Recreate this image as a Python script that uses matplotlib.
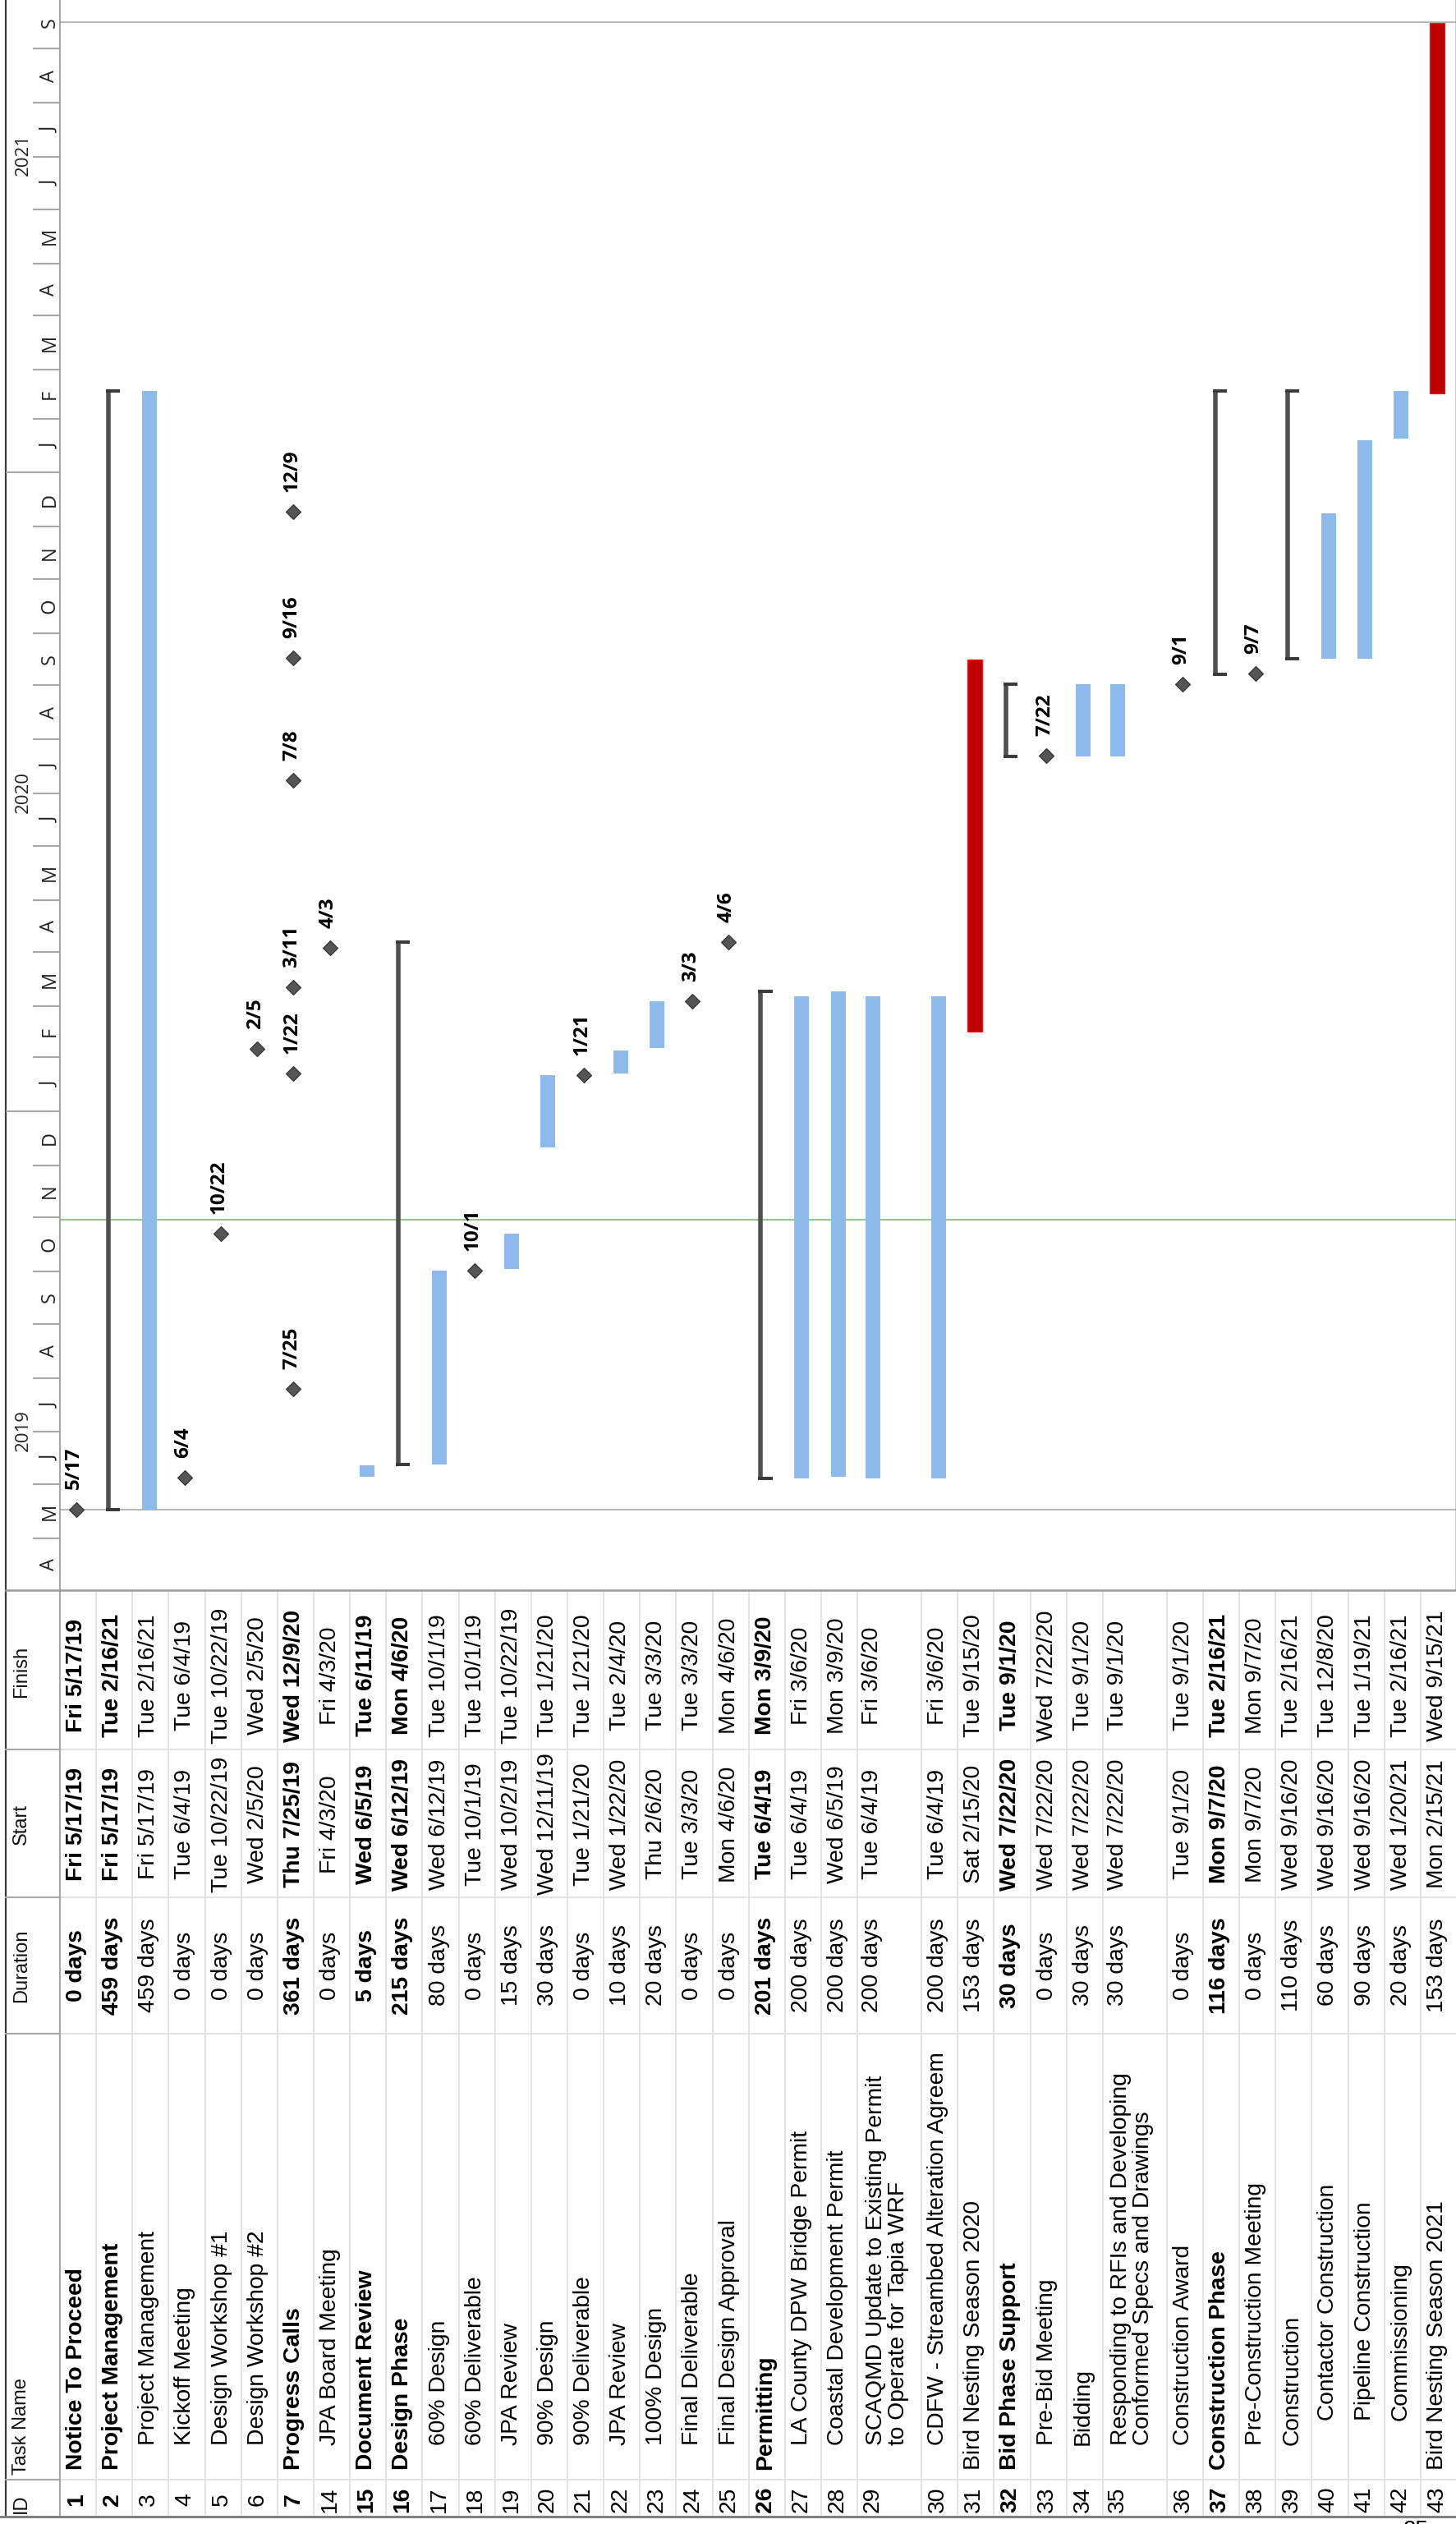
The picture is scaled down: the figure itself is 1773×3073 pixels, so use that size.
import matplotlib
matplotlib.use('Agg')
import matplotlib.pyplot as plt
import matplotlib.dates as mdates
from datetime import datetime

# ---------------- data ----------------
ids = [1, 2, 3, 4, 5, 6, 7, 14, 15, 16, 17, 18, 19, 20, 21, 22, 23, 24, 25,
       26, 27, 28, 29, 30, 31, 32, 33, 34, 35, 36, 37, 38, 39, 40, 41, 42, 43]
task_names = [
    "Notice To Proceed", "Project Management", "Project Management", "Kickoff Meeting",
    "Design Workshop #1", "Design Workshop #2", "Progress Calls", "JPA Board Meeting",
    "Document Review", "Design Phase", "60% Design", "60% Deliverable", "JPA Review",
    "90% Design", "90% Deliverable", "JPA Review", "100% Design", "Final Deliverable",
    "Final Design Approval", "Permitting", "LA County DPW Bridge Permit",
    "Coastal Development Permit",
    "SCAQMD Update to Existing Permit\nto Operate for Tapia WRF",
    "CDFW - Streambed Alteration Agreem", "Bird Nesting Season 2020",
    "Bid Phase Support", "Pre-Bid Meeting", "Bidding",
    "Responding to RFIs and Developing\nConformed Specs and Drawings",
    "Construction Award", "Construction Phase", "Pre-Construction Meeting",
    "Construction", "Contactor Construction", "Pipeline Construction",
    "Commissioning", "Bird Nesting Season 2021"]
durations = ["0 days", "459 days", "459 days", "0 days", "0 days", "0 days", "361 days",
             "0 days", "5 days", "215 days", "80 days", "0 days", "15 days", "30 days",
             "0 days", "10 days", "20 days", "0 days", "0 days", "201 days", "200 days",
             "200 days", "200 days", "200 days", "153 days", "30 days", "0 days",
             "30 days", "30 days", "0 days", "116 days", "0 days", "110 days", "60 days",
             "90 days", "20 days", "153 days"]
starts = ["Fri 5/17/19", "Fri 5/17/19", "Fri 5/17/19", "Tue 6/4/19", "Tue 10/22/19",
          "Wed 2/5/20", "Thu 7/25/19", "Fri 4/3/20", "Wed 6/5/19", "Wed 6/12/19",
          "Wed 6/12/19", "Tue 10/1/19", "Wed 10/2/19", "Wed 12/11/19", "Tue 1/21/20",
          "Wed 1/22/20", "Thu 2/6/20", "Tue 3/3/20", "Mon 4/6/20", "Tue 6/4/19",
          "Tue 6/4/19", "Wed 6/5/19", "Tue 6/4/19", "Tue 6/4/19", "Sat 2/15/20",
          "Wed 7/22/20", "Wed 7/22/20", "Wed 7/22/20", "Wed 7/22/20", "Tue 9/1/20",
          "Mon 9/7/20", "Mon 9/7/20", "Wed 9/16/20", "Wed 9/16/20", "Wed 9/16/20",
          "Wed 1/20/21", "Mon 2/15/21"]
finishes = ["Fri 5/17/19", "Tue 2/16/21", "Tue 2/16/21", "Tue 6/4/19", "Tue 10/22/19",
            "Wed 2/5/20", "Wed 12/9/20", "Fri 4/3/20", "Tue 6/11/19", "Mon 4/6/20",
            "Tue 10/1/19", "Tue 10/1/19", "Tue 10/22/19", "Tue 1/21/20", "Tue 1/21/20",
            "Tue 2/4/20", "Tue 3/3/20", "Tue 3/3/20", "Mon 4/6/20", "Mon 3/9/20",
            "Fri 3/6/20", "Mon 3/9/20", "Fri 3/6/20", "Fri 3/6/20", "Tue 9/15/20",
            "Tue 9/1/20", "Wed 7/22/20", "Tue 9/1/20", "Tue 9/1/20", "Tue 9/1/20",
            "Tue 2/16/21", "Mon 9/7/20", "Tue 2/16/21", "Tue 12/8/20", "Tue 1/19/21",
            "Tue 2/16/21", "Wed 9/15/21"]
# m = milestone, s = summary bracket, b = task bar, r = highlighted (red) bar, p = rolled-up milestones
bar_kinds = ['m', 's', 'b', 'm', 'm', 'm', 'p', 'm', 'b', 's', 'b', 'm', 'b', 'b', 'm', 'b',
             'b', 'm', 'm', 's', 'b', 'b', 'b', 'b', 'r', 's', 'm', 'b', 'b', 'm', 's', 'm',
             's', 'b', 'b', 'b', 'r']
outline_levels = [0, 0, 1, 1, 1, 1, 0, 1, 0, 0, 1, 1, 1, 1, 1, 1, 1, 1, 1, 0, 1, 1, 1, 1,
                  0, 0, 1, 1, 1, 1, 0, 1, 1, 2, 2, 2, 0]
bold_rows = [1, 2, 7, 15, 16, 26, 32, 37]
progress_call_dates = ["2019-07-25", "2020-01-22", "2020-03-11", "2020-07-08",
                       "2020-09-16", "2020-12-09"]
status_date = "2019-10-30"
column_headers = ["ID", "Task Name", "Duration", "Start", "Finish"]
month_letters = list("JFMAMJJASOND")
years = [2019, 2020, 2021]
timescale_start = (2019, 4)
timescale_end = (2021, 10)

# ---------------- layout ----------------
W, H = 1774, 3073
HDR_L, HDR_R = 7, 73
G_BOT = 1936
T_BOT = 3064
COL_LINES = [2130, 2310, 2476, 3019]
FIN_C, START_C, DUR_C, ID_C = 2040, 2221, 2393, 3043
NAME_START = [3007, 2977, 2947]
TABLE_FONT = ['Liberation Sans', 'DejaVu Sans']
SCALE_FONT = ['Open Sans', 'DejaVu Sans']
BLUE = '#8CBBEB'
RED = '#C00000'
DARK = '#505050'

fig = plt.figure(figsize=(W / 100, H / 100), dpi=100)
fig.patch.set_facecolor('white')

ax_all = fig.add_axes([0, 0, 1, 1])
ax_all.set_xlim(0, W)
ax_all.set_ylim(H, 0)
ax_all.axis('off')

ax_g = fig.add_axes([HDR_R / W, 1 - G_BOT / H, (W - HDR_R) / W, G_BOT / H])
ax_g.axis('off')
ref = mdates.date2num(datetime(2019, 5, 1))
PPD = 2.1238
REF_PX = 1873.0
ax_g.set_xlim(HDR_R, W)
ax_g.set_ylim(ref - (G_BOT - REF_PX) / PPD, ref + REF_PX / PPD)

ax_h = fig.add_axes([HDR_L / W, 1 - G_BOT / H, (HDR_R - HDR_L) / W, G_BOT / H], sharey=ax_g)
ax_h.axis('off')
ax_h.set_xlim(HDR_L, HDR_R)


def parse(s):
    return datetime.strptime(s.split()[1], '%m/%d/%y')


# row geometry
row_h = [78.0 if r in (29, 35) else (W - HDR_R - 2 * 78.0) / 35 for r in ids]
row_start = []
acc = HDR_R
for h in row_h:
    row_start.append(acc)
    acc += h
row_center = [s + h / 2 for s, h in zip(row_start, row_h)]
anchor = [s + (20 if h > 60 else h / 2) for s, h in zip(row_start, row_h)]

# ---------------- frame / grid ----------------
ax_all.plot([HDR_L, HDR_L], [0, T_BOT], color='#3C3C3C', lw=1.6)
ax_all.plot([HDR_R, HDR_R], [0, T_BOT], color='#A6A6A6', lw=1.5)
ax_all.plot([W - 2, W - 2], [0, G_BOT], color='#D0D0D0', lw=0.8)
for b in row_start[1:]:
    ax_all.plot([b, b], [G_BOT, T_BOT], color='#DCDCDC', lw=1.1)
for yl in COL_LINES:
    ax_all.plot([HDR_R, W], [yl, yl], color='#DCDCDC', lw=1.1)
    ax_all.plot([HDR_L, HDR_R], [yl, yl], color='#A6A6A6', lw=1.5)
ax_all.plot([HDR_L, W], [G_BOT, G_BOT], color='#9A9A9A', lw=1.8)
ax_all.plot([0, W], [T_BOT, T_BOT], color='#808080', lw=2.2)

# ---------------- table header ----------------
hx = 26
hk = dict(rotation=90, rotation_mode='anchor', va='center', fontsize=17,
          family=TABLE_FONT, color='#111111')
ax_all.text(hx, 3048, column_headers[0], ha='center', **hk)
ax_all.text(hx, 3013, column_headers[1], ha='left', **hk)
ax_all.text(hx, DUR_C, column_headers[2], ha='center', **hk)
ax_all.text(hx, START_C, column_headers[3], ha='center', **hk)
ax_all.text(hx, FIN_C - 5, column_headers[4], ha='center', **hk)

# ---------------- table body ----------------
for i, rid in enumerate(ids):
    wt = 'bold' if rid in bold_rows else 'normal'
    tk = dict(rotation=90, rotation_mode='anchor', va='center', fontsize=20.3,
              family=TABLE_FONT, color='black', fontweight=wt)
    xv = anchor[i] - 2
    ax_all.text(xv, ID_C, str(rid), ha='center', **tk)
    xn = row_center[i] - 3 if row_h[i] > 60 else xv
    ax_all.text(xn, NAME_START[outline_levels[i]], task_names[i], ha='left',
                linespacing=1.05, **tk)
    ax_all.text(xv, DUR_C, durations[i], ha='center', **tk)
    ax_all.text(xv, START_C, starts[i], ha='center', **tk)
    ax_all.text(xv, FIN_C, finishes[i], ha='center', **tk)

ax_all.text(1724, 3068, "25", ha='center', va='top', fontsize=20, family=TABLE_FONT)

# ---------------- timescale ----------------
y_, m_ = timescale_start
while (y_, m_) <= timescale_end:
    d0 = datetime(y_, m_, 1)
    ny, nm = (y_ + 1, 1) if m_ == 12 else (y_, m_ + 1)
    d1 = datetime(ny, nm, 1)
    yv = mdates.date2num(d0)
    x0 = HDR_L if m_ == 1 else 40
    ax_h.plot([x0, HDR_R], [yv, yv], color='#A6A6A6', lw=1.5, solid_capstyle='butt')
    if (y_, m_) < timescale_end:
        mid = (mdates.date2num(d0) + mdates.date2num(d1)) / 2
        ax_h.text(60.5, mid, month_letters[m_ - 1], rotation=90, rotation_mode='anchor',
                  ha='center', va='center', fontsize=17, family=SCALE_FONT,
                  color='#222222', clip_on=True)
    y_, m_ = ny, nm
for yr in years:
    ax_h.text(28, mdates.date2num(datetime(yr, 7, 2)), str(yr), rotation=90,
              rotation_mode='anchor', ha='center', va='center', fontsize=16,
              family=SCALE_FONT, color='#222222', clip_on=True)

# ---------------- gantt ----------------
proj_start = min(mdates.date2num(parse(s)) for s in starts) + 8 / 24
proj_finish = max(mdates.date2num(parse(f)) for f in finishes) + 1
ax_g.axhline(proj_start, color='#A0A0A0', lw=1.1, zorder=1)
ax_g.axhline(proj_finish, color='#A0A0A0', lw=1.1, zorder=1)
ax_g.axhline(mdates.date2num(datetime.strptime(status_date, '%Y-%m-%d')) + 0.5,
             color='#8FC78C', lw=1.5, zorder=1)


def milestone(x, d):
    yv = mdates.date2num(d) + 17 / 24
    ax_g.plot([x - 2.5], [yv], marker='D', ms=8.7, mfc='#555555', mec='#2E2E2E',
              mew=0.8, zorder=4, linestyle='none')
    ax_g.annotate(f"{d.month}/{d.day}", (x - 2.5, yv), xytext=(-1.6, 17.3),
                  textcoords='offset points', rotation=90, rotation_mode='anchor',
                  ha='left', va='center', fontsize=17.5, fontweight='bold',
                  family=SCALE_FONT, color='black', zorder=5)


for i, rid in enumerate(ids):
    xc = anchor[i]
    kind = bar_kinds[i]
    s_d = parse(starts[i])
    f_d = parse(finishes[i])
    s_num = mdates.date2num(s_d) + 8 / 24
    f_num = mdates.date2num(f_d) + 17 / 24
    if kind in ('b', 'r'):
        if kind == 'b':
            ax_g.bar(xc - 1.5, f_num - s_num, bottom=s_num, width=18, color=BLUE,
                     edgecolor='none', zorder=3)
        else:
            ax_g.bar(xc - 1.5, f_num - s_num, bottom=s_num, width=18, color=RED,
                     edgecolor='#F01818', linewidth=0.9, zorder=3)
    elif kind == 's':
        ax_g.plot([xc - 7.5, xc - 7.5], [s_num, f_num], color=DARK, lw=4,
                  solid_capstyle='butt', zorder=3)
        for yv in (s_num, f_num):
            ax_g.plot([xc - 10.5, xc + 7], [yv, yv], color='#3A3A3A', lw=2.9,
                      solid_capstyle='butt', zorder=3)
    elif kind == 'm':
        milestone(xc, s_d)
    elif kind == 'p':
        for ds in progress_call_dates:
            milestone(xc, datetime.strptime(ds, '%Y-%m-%d'))

fig.savefig('out.png', dpi=100, facecolor='white')
